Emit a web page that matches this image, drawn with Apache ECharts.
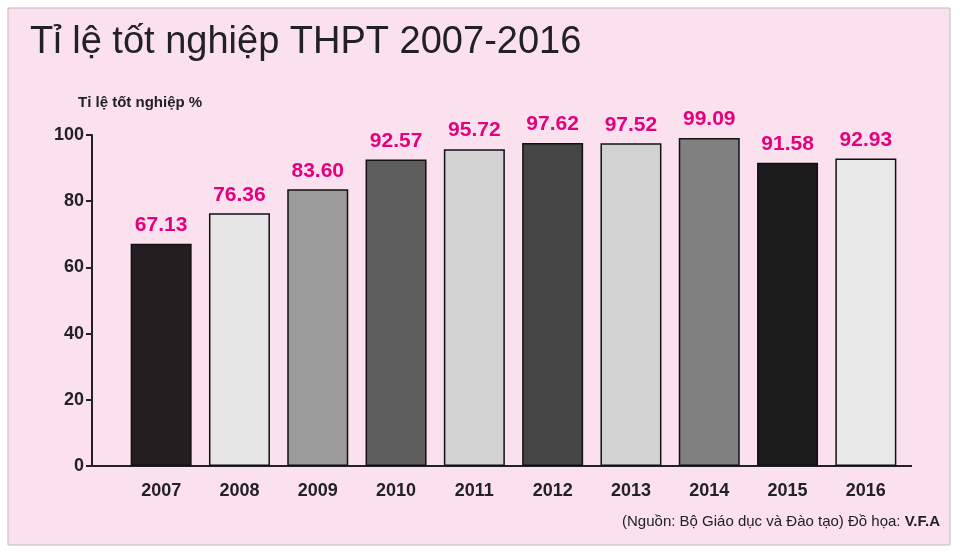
<!DOCTYPE html>
<html><head><meta charset="utf-8">
<script src="https://cdn.jsdelivr.net/npm/echarts@6/dist/echarts.min.js"></script>
<style>html,body{margin:0;background:#fff}#c{width:960px;height:560px}</style>
</head><body><div id="c"></div>
<script>
const years = ['2007','2008','2009','2010','2011','2012','2013','2014','2015','2016'];
const rates = [67.13, 76.36, 83.60, 92.57, 95.72, 97.62, 97.52, 99.09, 91.58, 92.93];
const barColors = ['#231f20','#e6e6e6','#9b9b9b','#5e5e5e','#d2d2d2','#454545','#d2d2d2','#808080','#1c1c1c','#e8e8e8'];
const yTicks = [0, 20, 40, 60, 80, 100];

const chart = echarts.init(document.getElementById('c'));
const font = '"Liberation Sans Narrow", "Liberation Sans", Arial, sans-serif';
chart.setOption({
  backgroundColor: '#fff',
  graphic: [
    { type: 'rect', shape: { x: 8, y: 8, width: 942, height: 537 }, style: { fill: '#fbe1ed', stroke: '#bbb', lineWidth: 1 }, z: -10 },
    { type: 'text', left: 30, top: 24, style: { text: 'Tỉ lệ tốt nghiệp THPT 2007-2016', font: '38px ' + font, fill: '#222' } },
    { type: 'text', left: 78, top: 95, style: { text: 'Tỉ lệ tốt nghiệp %', font: 'bold 15px ' + font, fill: '#222' } },
    { type: 'line', shape: { x1: 92, y1: 466, x2: 912, y2: 466 }, style: { stroke: '#222', lineWidth: 2 } },
    { type: 'text', right: 20, top: 514, style: {
      text: '(Nguồn: Bộ Giáo dục và Đào tạo) Đồ họa: {b|V.F.A}',
      font: '15px ' + font, fill: '#222',
      rich: { b: { fontWeight: 'bold', fontSize: 15, fontFamily: font, fill: '#222' } } } }
  ],
  grid: { left: 122, right: 55, top: 135, bottom: 94 },
  xAxis: {
    type: 'category', data: years,
    axisLine: { show: false }, axisTick: { show: false },
    axisLabel: { fontFamily: font, fontWeight: 'bold', fontSize: 18, color: '#222', margin: 16 }
  },
  yAxis: {
    type: 'value', min: 0, max: 100, interval: 20, offset: 30,
    axisLine: { show: true, lineStyle: { color: '#222', width: 2 } },
    axisTick: { show: true, inside: false, length: 6, lineStyle: { color: '#222', width: 2 } },
    splitLine: { show: false },
    axisLabel: { fontFamily: font, fontWeight: 'bold', fontSize: 18, color: '#222',
      formatter: v => yTicks.includes(v) ? String(v) : '' }
  },
  series: [{
    type: 'bar', barWidth: 61,
    data: rates.map((v, i) => ({ value: v, itemStyle: { color: barColors[i] } })),
    itemStyle: { borderColor: '#111', borderWidth: 1.5 },
    label: { show: true, position: 'top', distance: 8, formatter: p => p.value.toFixed(2),
      fontFamily: font, fontWeight: 'bold', fontSize: 21, color: '#e5007d' }
  }]
});
</script></body></html>
